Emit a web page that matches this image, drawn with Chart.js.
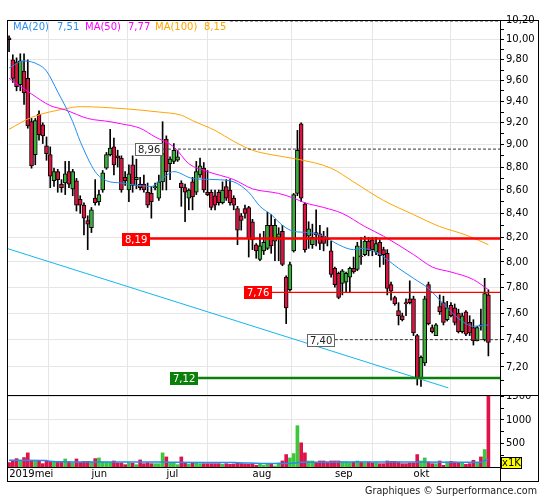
<!DOCTYPE html>
<html>
<head>
<meta charset="utf-8">
<script src="https://cdn.jsdelivr.net/npm/chart.js@4.4.0/dist/chart.umd.min.js"></script>
<style>
  body { margin: 0; background: #fff; font-family: "DejaVu Sans", sans-serif; }
  #wrap { position: relative; width: 545px; height: 500px; overflow: hidden; }
  canvas { position: absolute; left: 0; }
  #cPrice { top: 0; }
  #cVol { top: 395px; }
  .ln { position: absolute; background: #000; }
  .lg { position: absolute; top: 21px; font-size: 10px; line-height: 12px; white-space: nowrap; }
  #foot { position: absolute; right: 8px; top: 485px; font-size: 9.6px; line-height: 12px; color: #222; }
</style>
</head>
<body>
<div id="wrap">
  <canvas id="cPrice" width="545" height="395"></canvas>
  <canvas id="cVol" width="545" height="87"></canvas>
  <div class="ln" style="left:7px;top:20px;width:532px;height:1px"></div>
  <div class="ln" style="left:7px;top:20px;width:1px;height:462px"></div>
  <div class="ln" style="left:538px;top:20px;width:1px;height:462px"></div>
  <div class="ln" style="left:7px;top:481px;width:532px;height:1px"></div>
  <div class="ln" style="left:7px;top:395px;width:532px;height:1px"></div>
  <div class="ln" style="left:500px;top:20px;width:1px;height:462px"></div>
  <div id="legend"></div>
  <div id="foot">Graphiques © Surperformance.com</div>
</div>
<script>
// koersen per handelsdag (mei - okt 2019)
const opens = [10.02,9.80,9.78,9.56,9.69,9.62,9.21,8.91,9.28,9.18,
  8.99,8.91,8.68,8.76,8.65,8.66,8.76,8.61,8.68,8.52,
  8.47,8.34,8.28,8.53,8.50,8.60,8.79,8.91,8.98,8.90,
  8.88,8.71,8.60,8.82,8.69,8.65,8.65,8.58,8.57,8.62,
  8.53,8.67,9.05,8.83,8.85,8.86,8.66,8.62,8.53,8.67,
  8.58,8.73,8.79,8.58,8.58,8.55,8.58,8.49,8.63,8.60,
  8.53,8.44,8.38,8.44,8.45,8.33,8.14,8.02,8.09,8.11,
  8.30,8.17,8.20,8.25,7.88,7.78,8.09,8.57,9.19,8.48,
  8.21,8.14,8.24,8.23,8.21,8.19,8.09,7.95,7.91,7.83,
  7.84,7.88,7.95,7.94,8.05,8.06,8.17,8.18,8.08,8.16,
  8.10,8.07,7.82,7.72,7.62,7.58,7.68,7.71,7.71,7.43,
  7.12,7.23,7.82,7.49,7.43,7.65,7.68,7.55,7.66,7.64,
  7.60,7.46,7.61,7.53,7.49,7.39,7.51,7.40,7.74];
const highs = [10.04,9.85,9.82,9.86,9.86,9.80,9.24,9.24,9.31,9.20,
  9.07,8.98,8.79,8.78,8.69,8.85,8.85,8.78,8.70,8.55,
  8.49,8.38,8.45,8.69,8.60,8.77,8.93,9.14,9.06,8.95,
  8.90,8.76,8.82,8.90,8.87,8.71,8.73,8.66,8.63,8.66,
  8.73,9.21,9.08,8.89,9.01,8.95,8.68,8.65,8.61,8.71,
  8.85,8.88,8.84,8.77,8.60,8.60,8.60,8.67,8.69,8.69,
  8.55,8.46,8.40,8.47,8.46,8.35,8.15,8.23,8.25,8.41,
  8.39,8.35,8.28,8.30,7.89,8.00,8.57,9.13,9.20,8.49,
  8.33,8.31,8.43,8.30,8.25,8.28,8.17,7.96,7.92,7.94,
  7.92,7.96,8.04,8.16,8.20,8.21,8.20,8.20,8.20,8.18,
  8.12,8.10,7.84,7.73,7.68,7.60,7.71,7.85,7.73,7.44,
  7.28,7.73,7.84,7.51,7.52,7.74,7.73,7.69,7.68,7.67,
  7.63,7.60,7.62,7.58,7.55,7.50,7.63,7.87,7.78];
const lows = [9.88,9.58,9.50,9.50,9.37,9.15,8.79,8.82,9.04,9.01,
  8.86,8.62,8.63,8.58,8.58,8.56,8.62,8.55,8.42,8.40,
  8.22,8.10,8.24,8.47,8.47,8.58,8.78,8.90,8.73,8.80,
  8.58,8.64,8.50,8.58,8.61,8.60,8.58,8.45,8.36,8.60,
  8.51,8.60,8.60,8.69,8.83,8.85,8.46,8.33,8.43,8.43,
  8.56,8.71,8.58,8.55,8.43,8.43,8.47,8.48,8.51,8.47,
  8.43,8.14,8.26,8.36,8.04,8.10,8.03,8.01,8.06,8.10,
  8.07,8.01,8.01,7.97,7.52,7.77,8.08,8.55,8.50,8.08,
  8.11,8.11,8.13,8.10,8.09,8.13,7.88,7.80,7.71,7.74,
  7.76,7.76,7.91,7.93,7.98,8.05,8.05,8.05,8.06,7.96,
  7.98,7.74,7.70,7.66,7.51,7.54,7.58,7.67,7.43,7.07,
  7.06,7.21,7.51,7.45,7.43,7.59,7.51,7.54,7.57,7.51,
  7.45,7.45,7.43,7.43,7.36,7.39,7.47,7.39,7.28];
const closes = [10.00,9.62,9.54,9.79,9.48,9.17,8.81,9.22,9.09,9.08,
  8.92,8.72,8.76,8.69,8.62,8.74,8.65,8.76,8.47,8.47,
  8.36,8.31,8.43,8.49,8.56,8.75,8.91,8.97,8.82,8.88,
  8.60,8.68,8.74,8.64,8.71,8.62,8.60,8.47,8.50,8.63,
  8.67,8.92,8.76,8.87,8.95,8.89,8.62,8.58,8.60,8.54,
  8.76,8.81,8.60,8.56,8.45,8.47,8.49,8.60,8.53,8.49,
  8.47,8.26,8.34,8.40,8.19,8.18,8.09,8.13,8.16,8.30,
  8.13,8.30,8.23,7.98,7.64,7.98,8.56,8.95,8.53,8.10,
  8.27,8.20,8.22,8.15,8.15,8.18,7.90,7.82,7.72,7.93,
  7.91,7.95,7.92,8.13,8.04,8.17,8.09,8.10,8.15,8.05,
  8.06,7.79,7.77,7.67,7.58,7.55,7.67,7.68,7.45,7.12,
  7.27,7.71,7.52,7.46,7.51,7.61,7.53,7.64,7.58,7.53,
  7.46,7.58,7.44,7.45,7.39,7.49,7.50,7.75,7.38];
// volume in duizendtallen
const volumes = [93,143,178,128,200,300,143,128,128,71,
  121,121,121,107,121,171,114,86,171,100,
  121,121,107,178,193,107,100,100,128,86,
  86,50,93,79,50,150,71,93,71,71,
  71,300,214,86,86,50,214,93,64,79,
  93,71,71,71,71,71,71,57,71,57,
  64,93,71,64,57,71,36,71,36,71,
  71,21,86,128,264,193,286,878,514,300,
  128,128,93,128,128,107,128,128,128,107,
  107,93,107,128,107,93,107,86,93,71,
  71,128,121,121,107,71,71,86,86,264,
  128,193,107,71,71,128,36,107,121,107,
  93,93,57,71,143,93,214,371,1530];

const ma20Pos = [0,4,8,10,13,17,19,23,26,30,34,38,41,44,49,55,60,64,67,70,73,76,80,84,88,92,94,98,104,108,112,116,120,124,128];
const ma20Val = [9.72,9.79,9.75,9.69,9.49,9.21,9.03,8.76,8.68,8.66,8.64,8.63,8.70,8.76,8.70,8.69,8.67,8.58,8.46,8.39,8.30,8.25,8.24,8.21,8.14,8.10,8.11,8.08,7.95,7.87,7.79,7.67,7.56,7.50,7.51];
const ma50Pos = [0,6,11,15,21,27,30,35,39,44,48,53,60,65,72,76,79,84,89,95,100,108,113,118,124,128];
const ma50Val = [9.62,9.47,9.36,9.32,9.24,9.21,9.19,9.15,9.07,8.98,8.83,8.76,8.69,8.61,8.57,8.53,8.49,8.45,8.40,8.29,8.21,8.06,7.96,7.92,7.86,7.78];
const ma100Pos = [0,6,15,19,31,40,46,49,55,60,65,70,77,86,92,100,108,115,122,128];
const ma100Val = [9.14,9.25,9.33,9.35,9.33,9.30,9.27,9.22,9.13,9.03,8.95,8.91,8.87,8.79,8.67,8.51,8.39,8.29,8.22,8.14];
const volMaPos = [0,10,11,13,20,40,45,60,64,70,76,78,90,110,126,127,128];
const volMaVal = [143,140,121,112,107,105,100,93,85,72,78,100,105,105,100,140,150];

const trendPos = [-0.6, 117.3];
const trendVal = [8.11, 7.05];

const levelVals = [8.19, 7.76, 7.12, 8.96, 7.40, 10.19];
const levelFrom = [37.6, 70.2, 50.5, 41.1, 87, 59];

const maNames = ['MA(20)', 'MA(50)', 'MA(100)'];
const maLast = [7.51, 7.77, 8.15];

const priceTicks = [7.1,7.2,7.3,7.4,7.5,7.6,7.7,7.8,7.9,8.0,8.1,8.2,8.3,8.4,8.5,8.6,8.7,8.8,8.9,9.0,
  9.1,9.2,9.3,9.4,9.5,9.6,9.7,9.8,9.9,10.0,10.1,10.2];
const volTicks = [250,500,750,1000,1250,1500];
const monthPos = [-0.5,21.5,41.5,64.5,86.5,107.5];
const monthNames = ['2019mei','jun','jul','aug','sep','okt'];

const X_MIN = -0.55, X_MAX = 131.1;
const FONT = { family: 'DejaVu Sans', size: 10 };
const fmt = v => v.toFixed(2).replace('.', ',');
const isMajor = v => Math.round(v * 10) % 2 === 0;
const pts = (p, v) => p.map((x, k) => ({ x: x, y: v[k] }));

const idx = opens.map((_, i) => i);
const up = idx.map(i => closes[i] >= opens[i]);

// stijl van de horizontale lijnen
const levelStyle = [
  { color: '#ff0000', width: 2.5, dash: [], box: '#ff0000', text: '#fff' },
  { color: '#ff0000', width: 1.2, dash: [], box: '#ff0000', text: '#fff' },
  { color: '#0a800a', width: 2.5, dash: [], box: '#0a800a', text: '#fff' },
  { color: '#333', width: 1, dash: [3, 2], box: '#fff', edge: '#666', text: '#222' },
  { color: '#333', width: 1, dash: [3, 2], box: '#fff', edge: '#666', text: '#222' },
  { color: '#333', width: 1, dash: [3, 2], box: null }
];

// legenda
const lgColors = ['#2b8ff0', '#ff00ff', '#ffa500'];
const lgX = [13, 57, 85, 128, 155, 204];
const legend = document.getElementById('legend');
maNames.forEach((n, k) => {
  [n, fmt(maLast[k])].forEach((t, j) => {
    const s = document.createElement('span');
    s.className = 'lg';
    s.style.left = lgX[k * 2 + j] + 'px';
    s.style.color = lgColors[k];
    s.textContent = t;
    legend.appendChild(s);
  });
});

const levelLabels = {
  id: 'levelLabels',
  afterDatasetsDraw(chart) {
    const ctx = chart.ctx, xs = chart.scales.x, ys = chart.scales.y;
    ctx.save();
    ctx.font = '10px "DejaVu Sans"';
    ctx.textBaseline = 'middle';
    levelVals.forEach((v, k) => {
      const st = levelStyle[k];
      if (!st.box) return;
      const t = fmt(v);
      const w = Math.round(ctx.measureText(t).width + 6);
      const xr = Math.round(xs.getPixelForValue(levelFrom[k]));
      const yc = Math.round(ys.getPixelForValue(v));
      ctx.fillStyle = st.box;
      ctx.fillRect(xr - w, yc - 6, w, 13);
      if (st.edge) {
        ctx.strokeStyle = st.edge;
        ctx.lineWidth = 1;
        ctx.strokeRect(xr - w + 0.5, yc - 5.5, w - 1, 12);
      }
      ctx.fillStyle = st.text;
      ctx.fillText(t, xr - w + 3, yc + 1);
    });
    ctx.restore();
  }
};

const x1k = {
  id: 'x1k',
  afterDraw(chart) {
    const ctx = chart.ctx, r = chart.chartArea.right;
    const y0 = Math.round(chart.scales.y.getPixelForValue(0));
    ctx.save();
    ctx.fillStyle = '#ffff00';
    ctx.fillRect(r + 1, y0 - 10, 21, 12);
    ctx.strokeStyle = '#000';
    ctx.lineWidth = 1;
    ctx.strokeRect(r + 1.5, y0 - 9.5, 20, 11);
    ctx.fillStyle = '#000';
    ctx.font = '10px "DejaVu Sans"';
    ctx.textBaseline = 'middle';
    ctx.fillText('x1K', r + 2, y0 - 3.5);
    ctx.restore();
  }
};

const lineDs = (p, v, color, order) => ({
  type: 'line', data: pts(p, v), borderColor: color, borderWidth: 1,
  pointRadius: 0, cubicInterpolationMode: 'monotone', order: order
});

const priceSets = [
  lineDs(ma20Pos, ma20Val, '#1e8ff0', 5),
  lineDs(ma50Pos, ma50Val, '#ff00ff', 5),
  lineDs(ma100Pos, ma100Val, '#ffa500', 5),
  { type: 'line', data: pts(trendPos, trendVal), borderColor: '#10b8f0', borderWidth: 1, pointRadius: 0, order: 4 }
];
levelVals.forEach((v, k) => {
  const st = levelStyle[k];
  priceSets.push({
    type: 'line', data: [{ x: levelFrom[k], y: v }, { x: X_MAX, y: v }],
    borderColor: st.color, borderWidth: st.width, borderDash: st.dash, pointRadius: 0, order: 3
  });
});
priceSets.push({
  data: idx.map(i => ({ x: i, y: [lows[i], highs[i]] })),
  backgroundColor: '#000', borderWidth: 0, barThickness: 1, grouped: false, order: 10
});
priceSets.push({
  data: idx.map(i => ({ x: i, y: [opens[i], closes[i]] })),
  backgroundColor: idx.map(i => up[i] ? '#3cae3c' : '#d8143f'),
  borderColor: '#000', borderWidth: 1, borderSkipped: false, minBarLength: 1,
  barThickness: 4, grouped: false, order: 9
});

new Chart(document.getElementById('cPrice'), {
  type: 'bar',
  data: { datasets: priceSets },
  options: {
    responsive: false,
    animation: false,
    events: [],
    layout: { padding: { left: 7, right: 7, top: 20, bottom: 0 } },
    plugins: { legend: { display: false }, tooltip: { enabled: false } },
    scales: {
      x: {
        type: 'linear', min: X_MIN, max: X_MAX, offset: false,
        afterBuildTicks: a => { a.ticks = monthPos.map(v => ({ value: v })); },
        afterFit: a => { a.height = 0; a.paddingLeft = 0; a.paddingRight = 0; },
        ticks: { display: false },
        grid: { color: '#e6e6e6', drawTicks: false },
        border: { display: false }
      },
      y: {
        type: 'logarithmic', position: 'right', min: 7.0, max: 10.2,
        afterBuildTicks: a => { a.ticks = priceTicks.map(v => ({ value: v })); },
        afterFit: a => { a.width = 38; a.paddingTop = 0; a.paddingBottom = 0; },
        ticks: { autoSkip: false, padding: 2, color: '#000', font: FONT, callback: v => isMajor(v) ? fmt(v) : '' },
        grid: {
          color: c => isMajor(c.tick.value) ? '#e6e6e6' : 'rgba(0,0,0,0)',
          tickColor: '#000', tickLength: 4
        },
        border: { display: false }
      }
    }
  },
  plugins: [levelLabels]
});

new Chart(document.getElementById('cVol'), {
  type: 'bar',
  data: {
    datasets: [
      { type: 'line', data: pts(volMaPos, volMaVal), borderColor: '#1e8ff0', borderWidth: 1.5,
        pointRadius: 0, cubicInterpolationMode: 'monotone', order: 1 },
      { data: idx.map(i => ({ x: i, y: volumes[i] })),
        backgroundColor: idx.map(i => up[i] ? '#3cc83c' : '#e0124a'),
        borderWidth: 0, barThickness: 3, grouped: false, order: 2 }
    ]
  },
  options: {
    responsive: false,
    animation: false,
    events: [],
    layout: { padding: { left: 7, right: 7, top: 0, bottom: 0 } },
    plugins: { legend: { display: false }, tooltip: { enabled: false } },
    scales: {
      x: {
        type: 'linear', min: X_MIN, max: X_MAX, offset: false,
        afterBuildTicks: a => { a.ticks = monthPos.map(v => ({ value: v })); },
        afterFit: a => { a.height = 15; a.paddingLeft = 0; a.paddingRight = 0; },
        ticks: { autoSkip: false, maxRotation: 0, align: 'start', labelOffset: 2, padding: 1,
          color: '#000', font: FONT, callback: (v, k) => monthNames[k] },
        grid: { color: '#e6e6e6', drawTicks: false },
        border: { display: true, color: '#000', width: 1 }
      },
      y: {
        position: 'right', min: 0, max: 1530,
        afterBuildTicks: a => { a.ticks = volTicks.map(v => ({ value: v })); },
        afterFit: a => { a.width = 38; a.paddingTop = 0; a.paddingBottom = 0; },
        ticks: { autoSkip: false, padding: 2, color: '#000', font: FONT, callback: v => v % 500 === 0 ? String(v) : '' },
        grid: {
          color: c => c.tick.value % 500 === 0 ? '#e6e6e6' : 'rgba(0,0,0,0)',
          tickColor: '#000', tickLength: 4
        },
        border: { display: false }
      }
    }
  },
  plugins: [x1k]
});
</script>
</body>
</html>
